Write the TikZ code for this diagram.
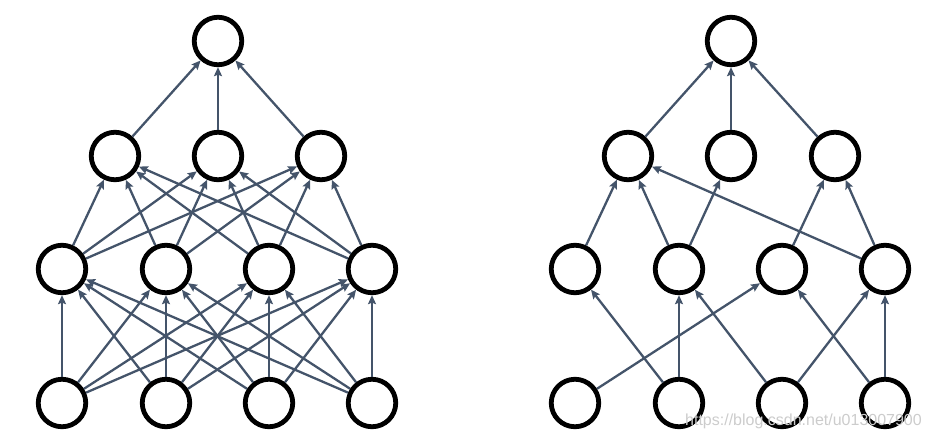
\documentclass[tikz,border=0pt]{standalone}
\usepackage{fontspec}
\newfontfamily\wmfont{Liberation Sans}
\usetikzlibrary{arrows.meta}
\definecolor{edgecol}{HTML}{44546A}
\begin{document}
\begin{tikzpicture}[x=1pt,y=-1pt,
  neuron/.style={circle,draw=black,line width=4.8pt,minimum size=47.5pt,inner sep=0pt,fill=white},
  conn/.style={draw=edgecol,line width=2.3pt,-{Stealth[length=9pt,width=8pt,inset=1.5pt]}}]
\useasboundingbox (0,0) rectangle (931,440);
% left network
\foreach \i/\x in {1/62,2/166,3/269,4/372}{
  \node[neuron] (lb\i) at (\x,403) {};
  \node[neuron] (lm\i) at (\x,269) {};
}
\foreach \i/\x in {1/115,2/218,3/321}{
  \node[neuron] (lh\i) at (\x,156) {};
}
\node[neuron] (lt) at (218,41) {};
\foreach \a in {1,2,3,4}{\foreach \b in {1,2,3,4}{\draw[conn] (lb\a) -- (lm\b);}}
\foreach \a in {1,2,3,4}{\foreach \b in {1,2,3}{\draw[conn] (lm\a) -- (lh\b);}}
\foreach \b in {1,2,3}{\draw[conn] (lh\b) -- (lt);}
% right network
\foreach \i/\x in {1/575,2/679,3/782,4/885}{
  \node[neuron] (rb\i) at (\x,403) {};
  \node[neuron] (rm\i) at (\x,269) {};
}
\foreach \i/\x in {1/628,2/731,3/835}{
  \node[neuron] (rh\i) at (\x,156) {};
}
\node[neuron] (rt) at (731,41) {};
\foreach \a/\b in {1/3,2/1,2/2,3/2,3/4,4/3,4/4}{\draw[conn] (rb\a) -- (rm\b);}
\foreach \a/\b in {1/1,2/1,2/2,3/3,4/1,4/3}{\draw[conn] (rm\a) -- (rh\b);}
\foreach \b in {1,2,3}{\draw[conn] (rh\b) -- (rt);}
\node[text=black!20,font=\wmfont\fontsize{16}{16}\selectfont,anchor=base east,inner sep=0pt] (wm) at (922,425) {https://blog.csdn.net/u013007900};
\end{tikzpicture}
\end{document}
